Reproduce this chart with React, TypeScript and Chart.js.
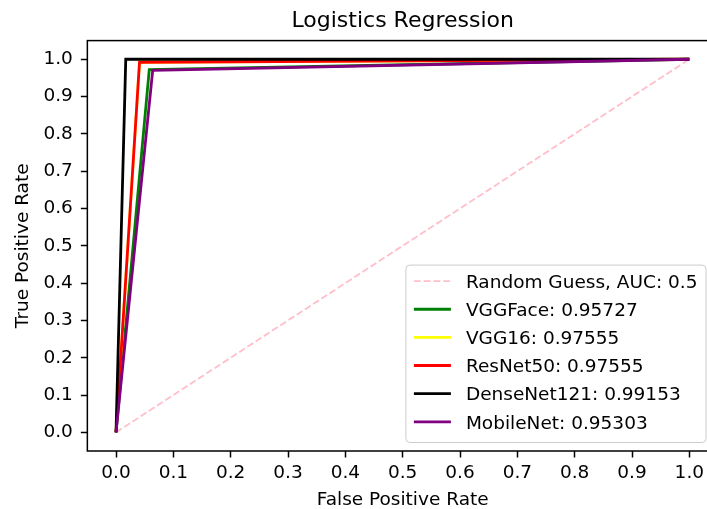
import React, { useEffect, useRef } from "react";
import { Chart, registerables } from "chart.js";

Chart.register(...registerables);

const FONT = "'DejaVu Sans', 'Liberation Sans', sans-serif";

const titleText = "Logistics Regression";
const xAxisLabel = "False Positive Rate";
const yAxisLabel = "True Positive Rate";
const tickValues = [0, 0.1, 0.2, 0.3, 0.4, 0.5, 0.6, 0.7, 0.8, 0.9, 1.0];

const seriesNames = [
  "Random Guess, AUC: 0.5",
  "VGGFace: 0.95727",
  "VGG16: 0.97555",
  "ResNet50: 0.97555",
  "DenseNet121: 0.99153",
  "MobileNet: 0.95303",
];
const seriesColors = ["#ffc0cb", "#008000", "#ffff00", "#ff0000", "#000000", "#800080"];

const randomFpr = [0, 1];
const randomTpr = [0, 1];
const vggFaceFpr = [0, 0.058, 1];
const vggFaceTpr = [0, 0.972, 1];
const vgg16Fpr = [0, 0.041, 1];
const vgg16Tpr = [0, 0.992, 1];
const resNetFpr = [0, 0.041, 1];
const resNetTpr = [0, 0.992, 1];
const denseNetFpr = [0, 0.017, 1];
const denseNetTpr = [0, 1.0, 1];
const mobileNetFpr = [0, 0.064, 1];
const mobileNetTpr = [0, 0.97, 1];

const seriesFpr = [randomFpr, vggFaceFpr, vgg16Fpr, resNetFpr, denseNetFpr, mobileNetFpr];
const seriesTpr = [randomTpr, vggFaceTpr, vgg16Tpr, resNetTpr, denseNetTpr, mobileNetTpr];

const LINE_W = 2.8;
const DASH_W = 1.85;
const DASH = [6.8, 3];

const framePlugin = {
  id: "frame",
  afterDatasetsDraw(chart: any) {
    const { ctx, chartArea } = chart;
    ctx.save();
    ctx.strokeStyle = "#000";
    ctx.lineWidth = 1.5;
    ctx.strokeRect(chartArea.left, chartArea.top, chartArea.right - chartArea.left, chartArea.bottom - chartArea.top);
    ctx.restore();
  },
};

const titlePlugin = {
  id: "centeredTitle",
  afterDraw(chart: any) {
    const { ctx, chartArea } = chart;
    ctx.save();
    ctx.font = `22px ${FONT}`;
    ctx.fillStyle = "#000";
    ctx.textAlign = "center";
    ctx.textBaseline = "middle";
    ctx.fillText(titleText, (chartArea.left + chartArea.right) / 2, chartArea.top - 19.6);
    ctx.restore();
  },
};

const legendPlugin = {
  id: "customLegend",
  afterDraw(chart: any) {
    const { ctx, chartArea } = chart;
    ctx.save();
    ctx.font = `18.5px ${FONT}`;
    let maxW = 0;
    seriesNames.forEach((n) => {
      maxW = Math.max(maxW, ctx.measureText(n).width);
    });
    const padL = 8;
    const handleLen = 37;
    const textGap = 15;
    const padR = 8.5;
    const w = padL + handleLen + textGap + maxW + padR;
    const h = 177.4;
    const right = chartArea.right - 12;
    const bottom = chartArea.bottom - 8.5;
    const left = right - w;
    const top = bottom - h;
    ctx.beginPath();
    (ctx as any).roundRect(left, top, w, h, 4);
    ctx.fillStyle = "rgba(255,255,255,0.8)";
    ctx.fill();
    ctx.strokeStyle = "#cccccc";
    ctx.lineWidth = 1;
    ctx.stroke();
    seriesNames.forEach((name, i) => {
      const y = top + 16 + i * 28.14;
      ctx.beginPath();
      ctx.strokeStyle = seriesColors[i];
      if (i === 0) {
        ctx.lineWidth = DASH_W;
        ctx.setLineDash(DASH);
      } else {
        ctx.lineWidth = LINE_W;
        ctx.setLineDash([]);
      }
      ctx.moveTo(left + padL, y);
      ctx.lineTo(left + padL + handleLen, y);
      ctx.stroke();
      ctx.setLineDash([]);
      ctx.fillStyle = "#000";
      ctx.textAlign = "left";
      ctx.textBaseline = "middle";
      ctx.fillText(name, left + padL + handleLen + textGap, y + 2);
    });
    ctx.restore();
  },
};

export default function App() {
  const ref = useRef<HTMLCanvasElement | null>(null);

  useEffect(() => {
    if (!ref.current) return;
    const datasets = seriesNames.map((name, i) => ({
      label: name,
      data: seriesFpr[i].map((x, j) => ({ x, y: seriesTpr[i][j] })),
      borderColor: seriesColors[i],
      backgroundColor: seriesColors[i],
      borderWidth: i === 0 ? DASH_W : LINE_W,
      borderDash: i === 0 ? DASH : [],
      pointRadius: 0,
      fill: false,
      tension: 0,
      order: seriesNames.length - 1 - i,
    }));

    const tickFont = { family: FONT, size: 18.5 };

    const chart = new Chart(ref.current, {
      type: "line",
      data: { datasets },
      plugins: [framePlugin, titlePlugin, legendPlugin],
      options: {
        animation: false,
        responsive: false,
        devicePixelRatio: 1,
        layout: { padding: { left: 0, right: 2, top: 40.6, bottom: 0 } },
        plugins: {
          legend: { display: false },
          tooltip: { enabled: false },
          title: { display: false },
        },
        scales: {
          x: {
            type: "linear",
            min: -0.05,
            max: 1.05,
            afterBuildTicks: (s: any) => {
              s.ticks = tickValues.map((v) => ({ value: v }));
            },
            afterFit: (s: any) => {
              s.height = 58;
            },
            ticks: {
              callback: (v: any) => Number(v).toFixed(1),
              font: tickFont,
              color: "#000",
              padding: 5,
              maxRotation: 0,
              autoSkip: false,
            },
            grid: {
              drawOnChartArea: false,
              drawTicks: true,
              tickLength: 6.5,
              tickColor: "#000",
              tickWidth: 1.5,
            },
            border: { display: false },
            title: {
              display: true,
              text: xAxisLabel,
              color: "#000",
              font: { family: FONT, size: 18.5, lineHeight: 1 },
              padding: { top: 0, bottom: 0 },
            },
          },
          y: {
            type: "linear",
            min: -0.05,
            max: 1.05,
            afterBuildTicks: (s: any) => {
              s.ticks = tickValues.map((v) => ({ value: v }));
            },
            afterFit: (s: any) => {
              s.width = 87.35;
            },
            ticks: {
              callback: (v: any) => Number(v).toFixed(1),
              font: tickFont,
              color: "#000",
              padding: 8,
              autoSkip: false,
            },
            grid: {
              drawOnChartArea: false,
              drawTicks: true,
              tickLength: 6.5,
              tickColor: "#000",
              tickWidth: 1.5,
            },
            border: { display: false },
            title: {
              display: true,
              text: yAxisLabel,
              color: "#000",
              font: { family: FONT, size: 18.5, lineHeight: 1.2 },
              padding: { top: 12, bottom: 0 },
            },
          },
        },
      } as any,
    });
    return () => chart.destroy();
  }, []);

  return (
    <div
      style={{
        position: "fixed",
        left: 0,
        top: 0,
        width: 707,
        height: 509,
        overflow: "hidden",
        background: "#fff",
      }}
    >
      <canvas ref={ref} width={720} height={509} style={{ display: "block" }} />
    </div>
  );
}
